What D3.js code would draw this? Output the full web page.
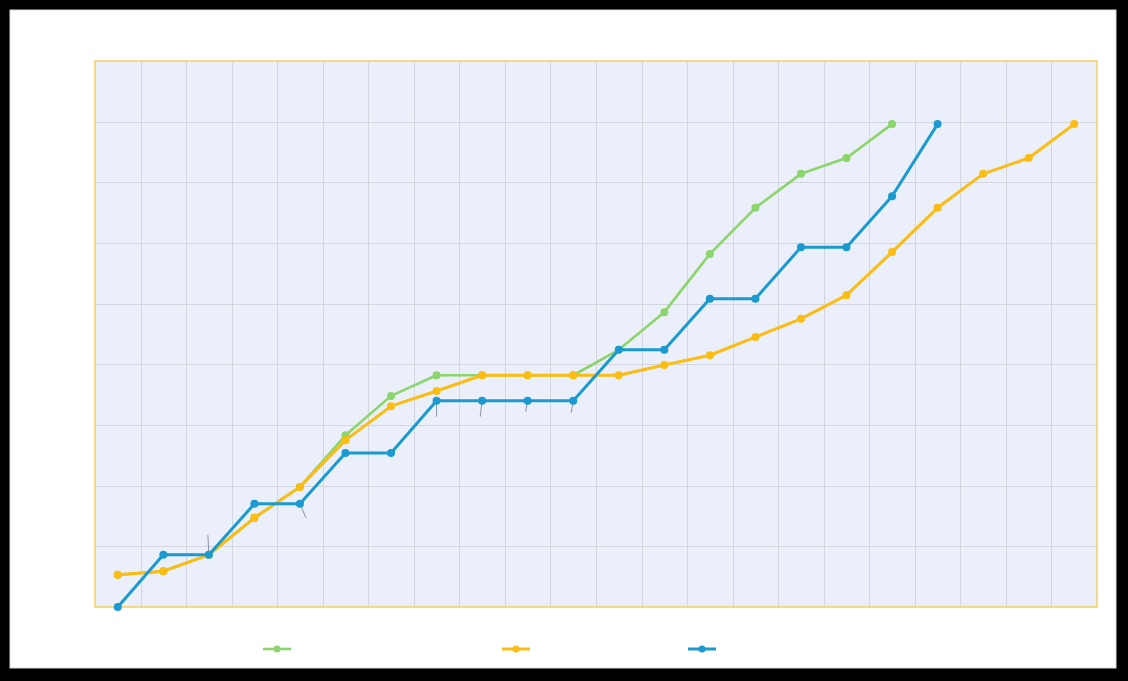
<!DOCTYPE html>
<html>
<head>
<meta charset="utf-8">
<script src="https://cdn.jsdelivr.net/npm/d3@7"></script>
<style>
  body { margin: 0; background: #000; }
  #chart svg { display: block; }
</style>
</head>
<body>
<div id="chart"></div>
<script>
// 22 periods along the x axis, values in grid units (9 rows)
var periods = d3.range(1, 23);

var greenValues = [0.53, 0.59, 0.86, 1.47, 1.98, 2.83, 3.48, 3.82, 3.82, 3.82, 3.82, 4.24,
                   4.86, 5.82, 6.58, 7.14, 7.40, 7.96];
var yellowValues = [0.53, 0.59, 0.86, 1.47, 1.98, 2.75, 3.31, 3.56, 3.82, 3.82, 3.82, 3.82,
                    3.99, 4.15, 4.45, 4.75, 5.14, 5.85, 6.58, 7.14, 7.40, 7.96];
var blueValues = [0, 0.86, 0.86, 1.70, 1.70, 2.54, 2.54, 3.40, 3.40, 3.40, 3.40, 4.24,
                  4.24, 5.08, 5.08, 5.93, 5.93, 6.77, 7.96];

// empty data labels on the blue series leave only their leader lines
var blueLeaderIdx = [2, 4, 7, 8, 9, 10];
var leaderDx = [-1, 6, 0, -2, -2, -2];
var leaderDy = [-20, 14, 16, 16, 11, 12];

var series = [
  { name: 'green', color: '#8cd46c', width: 2.6, values: greenValues },
  { name: 'yellow', color: '#fbbd14', width: 3, values: yellowValues },
  { name: 'blue', color: '#1a9acf', width: 3, values: blueValues }
];
var legendX = [263, 502, 688];

var width = 1128, height = 681;
var card = { x: 10, y: 10, w: 1106, h: 658 };
var plot = { left: 95, top: 61, right: 1097, bottom: 607 };

var svg = d3.select('#chart').append('svg')
  .attr('width', width)
  .attr('height', height);

svg.append('rect')
  .attr('width', width).attr('height', height)
  .attr('fill', '#000');

svg.append('rect')
  .attr('x', card.x).attr('y', card.y)
  .attr('width', card.w).attr('height', card.h)
  .attr('fill', '#fff')
  .attr('stroke', '#dcdcdc')
  .attr('stroke-width', 1);

var xBand = d3.scaleBand()
  .domain(periods)
  .range([plot.left, plot.right]);

var xScale = function (i) { return xBand(periods[i]) + xBand.bandwidth() / 2; };

var yScale = d3.scaleLinear()
  .domain([0, 9])
  .range([plot.bottom, plot.top]);

svg.append('rect')
  .attr('x', plot.left).attr('y', plot.top)
  .attr('width', plot.right - plot.left)
  .attr('height', plot.bottom - plot.top)
  .attr('fill', '#eaeff9');

// vertical grid on band edges
svg.append('g')
  .selectAll('line')
  .data(periods.slice(1))
  .enter().append('line')
  .attr('x1', function (d) { return Math.round(xBand(d)) + 0.5; })
  .attr('x2', function (d) { return Math.round(xBand(d)) + 0.5; })
  .attr('y1', plot.top)
  .attr('y2', plot.bottom)
  .attr('stroke', '#d3d6de')
  .attr('stroke-width', 1);

// horizontal grid
svg.append('g')
  .selectAll('line')
  .data(d3.range(1, 9))
  .enter().append('line')
  .attr('x1', plot.left)
  .attr('x2', plot.right)
  .attr('y1', function (d) { return Math.round(yScale(d)) + 0.5; })
  .attr('y2', function (d) { return Math.round(yScale(d)) + 0.5; })
  .attr('stroke', '#d3d6de')
  .attr('stroke-width', 1);

svg.append('rect')
  .attr('x', plot.left).attr('y', plot.top)
  .attr('width', plot.right - plot.left)
  .attr('height', plot.bottom - plot.top)
  .attr('fill', 'none')
  .attr('stroke', '#f3c84a')
  .attr('stroke-width', 1.3);

// leader lines
svg.append('g')
  .selectAll('line')
  .data(blueLeaderIdx)
  .enter().append('line')
  .attr('x1', function (d) { return xScale(d); })
  .attr('y1', function (d) { return yScale(blueValues[d]); })
  .attr('x2', function (d, i) { return xScale(d) + leaderDx[i]; })
  .attr('y2', function (d, i) { return yScale(blueValues[d]) + leaderDy[i]; })
  .attr('stroke', '#8a93a6')
  .attr('stroke-width', 1);

var line = d3.line()
  .x(function (d, i) { return xScale(i); })
  .y(function (d) { return yScale(d); });

series.forEach(function (s) {
  var g = svg.append('g');
  g.append('path')
    .attr('d', line(s.values))
    .attr('fill', 'none')
    .attr('stroke', s.color)
    .attr('stroke-width', s.width)
    .attr('stroke-linejoin', 'round');
  g.selectAll('circle')
    .data(s.values)
    .enter().append('circle')
    .attr('cx', function (d, i) { return xScale(i); })
    .attr('cy', function (d) { return yScale(d); })
    .attr('r', 4)
    .attr('fill', s.color);
});

// legend
var legend = svg.append('g')
  .selectAll('g')
  .data(series)
  .enter().append('g')
  .attr('transform', function (d, i) { return 'translate(' + legendX[i] + ',649)'; });

legend.append('line')
  .attr('x1', 0).attr('x2', 28)
  .attr('stroke', function (d) { return d.color; })
  .attr('stroke-width', function (d) { return d.width; });

legend.append('circle')
  .attr('cx', 14).attr('r', 3.5)
  .attr('fill', function (d) { return d.color; });
</script>
</body>
</html>
